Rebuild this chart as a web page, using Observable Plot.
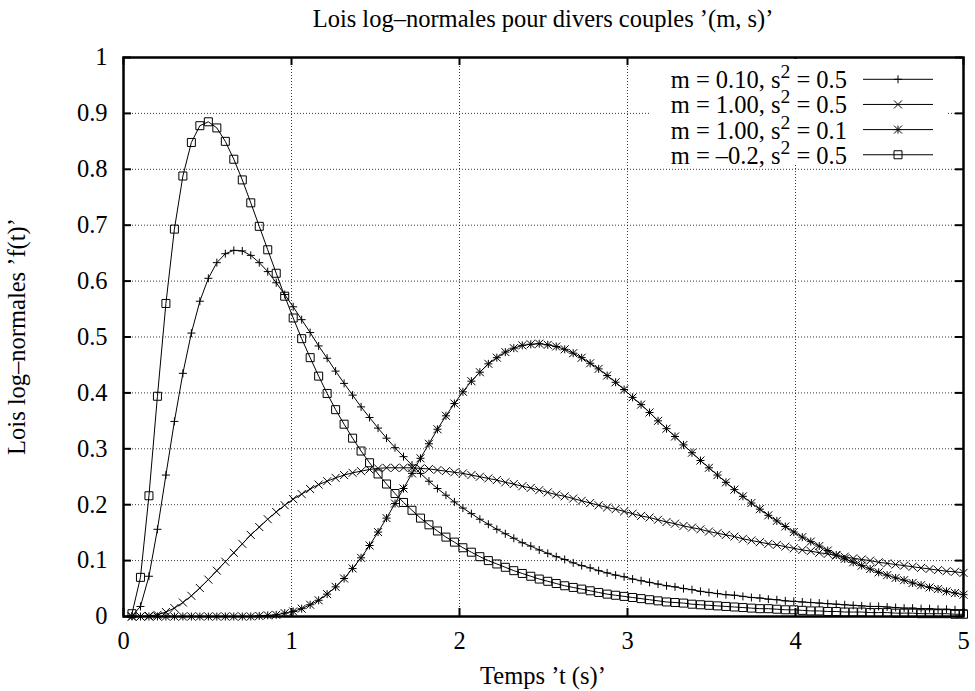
<!DOCTYPE html>
<html>
<head>
<meta charset="utf-8">
<script src="https://cdn.jsdelivr.net/npm/d3@7"></script>
<script src="https://cdn.jsdelivr.net/npm/@observablehq/plot@0.6"></script>
<style>
  html, body { margin: 0; padding: 0; background: #fff; }
  #chart { width: 975px; height: 691px; }
</style>
</head>
<body>
<div id="chart"></div>
<script>
// ---------------- data ----------------
const titleText = "Lois log–normales pour divers couples ’(m, s)’";
const xLabelText = "Temps ’t (s)’";
const yLabelText = "Lois log–normales ’f(t)’";

const t = [
  0.0505,0.1010,0.1515,0.2020,0.2525,0.3030,0.3535,0.4040,0.4545,0.5051,
  0.5556,0.6061,0.6566,0.7071,0.7576,0.8081,0.8586,0.9091,0.9596,1.0101,
  1.0606,1.1111,1.1616,1.2121,1.2626,1.3131,1.3636,1.4141,1.4646,1.5152,
  1.5657,1.6162,1.6667,1.7172,1.7677,1.8182,1.8687,1.9192,1.9697,2.0202,
  2.0707,2.1212,2.1717,2.2222,2.2727,2.3232,2.3737,2.4242,2.4747,2.5253,
  2.5758,2.6263,2.6768,2.7273,2.7778,2.8283,2.8788,2.9293,2.9798,3.0303,
  3.0808,3.1313,3.1818,3.2323,3.2828,3.3333,3.3838,3.4343,3.4848,3.5354,
  3.5859,3.6364,3.6869,3.7374,3.7879,3.8384,3.8889,3.9394,3.9899,4.0404,
  4.0909,4.1414,4.1919,4.2424,4.2929,4.3434,4.3939,4.4444,4.4949,4.5455,
  4.5960,4.6465,4.6970,4.7475,4.7980,4.8485,4.8990,4.9495,5.0000
];

// m = 0.10, s^2 = 0.5
const fA = [
  0.001,0.018,0.072,0.156,0.253,0.349,0.435,0.507,0.564,0.605,
  0.633,0.649,0.655,0.654,0.646,0.633,0.617,0.597,0.576,0.554,
  0.531,0.508,0.484,0.462,0.439,0.417,0.396,0.375,0.356,0.337,
  0.319,0.302,0.286,0.271,0.256,0.242,0.229,0.217,0.205,0.194,
  0.184,0.174,0.165,0.156,0.148,0.140,0.132,0.126,0.119,0.113,
  0.107,0.102,0.096,0.091,0.087,0.082,0.078,0.074,0.071,0.067,
  0.064,0.061,0.058,0.055,0.053,0.050,0.048,0.045,0.043,0.041,
  0.039,0.038,0.036,0.034,0.033,0.031,0.030,0.028,0.027,0.026,
  0.025,0.024,0.023,0.022,0.021,0.020,0.019,0.018,0.018,0.017,
  0.016,0.015,0.015,0.014,0.014,0.013,0.013,0.012,0.012
];

// m = 1.00, s^2 = 0.5
const fB = [
  0.000,0.000,0.001,0.003,0.008,0.015,0.025,0.037,0.051,0.066,
  0.082,0.098,0.114,0.130,0.146,0.160,0.174,0.187,0.199,0.210,
  0.219,0.228,0.236,0.242,0.248,0.253,0.257,0.260,0.263,0.265,
  0.266,0.266,0.266,0.266,0.265,0.264,0.262,0.260,0.258,0.256,
  0.253,0.250,0.247,0.244,0.240,0.237,0.233,0.230,0.226,0.222,
  0.218,0.215,0.211,0.207,0.203,0.199,0.195,0.192,0.188,0.184,
  0.180,0.177,0.173,0.169,0.166,0.162,0.159,0.156,0.152,0.149,
  0.146,0.143,0.139,0.136,0.133,0.130,0.128,0.125,0.122,0.119,
  0.117,0.114,0.112,0.109,0.107,0.104,0.102,0.100,0.097,0.095,
  0.093,0.091,0.089,0.087,0.085,0.083,0.081,0.080,0.078
];

// m = 1.00, s^2 = 0.1
const fC = [
  0.000,0.000,0.000,0.000,0.000,0.000,0.000,0.000,0.000,0.000,
  0.000,0.000,0.000,0.000,0.000,0.001,0.002,0.003,0.006,0.009,
  0.014,0.021,0.029,0.040,0.053,0.068,0.086,0.105,0.127,0.151,
  0.176,0.202,0.229,0.256,0.283,0.309,0.335,0.359,0.381,0.402,
  0.421,0.437,0.452,0.463,0.473,0.480,0.485,0.487,0.488,0.486,
  0.483,0.478,0.471,0.463,0.453,0.443,0.431,0.419,0.406,0.392,
  0.379,0.365,0.350,0.336,0.322,0.307,0.293,0.279,0.266,0.253,
  0.240,0.227,0.215,0.203,0.192,0.181,0.171,0.161,0.151,0.142,
  0.134,0.126,0.118,0.110,0.103,0.097,0.091,0.085,0.079,0.074,
  0.069,0.065,0.060,0.056,0.052,0.049,0.045,0.042,0.039
];

// m = -0.2, s^2 = 0.5
const fD = [
  0.005,0.070,0.216,0.394,0.560,0.693,0.788,0.848,0.878,0.885,
  0.874,0.850,0.818,0.781,0.740,0.698,0.656,0.614,0.573,0.534,
  0.497,0.463,0.430,0.399,0.370,0.344,0.319,0.296,0.275,0.255,
  0.237,0.220,0.204,0.190,0.176,0.164,0.153,0.142,0.133,0.123,
  0.115,0.107,0.100,0.094,0.088,0.082,0.077,0.072,0.067,0.063,
  0.059,0.055,0.052,0.049,0.046,0.043,0.040,0.038,0.036,0.034,
  0.032,0.030,0.028,0.026,0.025,0.024,0.022,0.021,0.020,0.019,
  0.018,0.017,0.016,0.015,0.014,0.014,0.013,0.012,0.012,0.011,
  0.010,0.010,0.009,0.009,0.008,0.008,0.008,0.007,0.007,0.007,
  0.006,0.006,0.006,0.005,0.005,0.005,0.005,0.004,0.004
];

const legendM  = ["0.10", "1.00", "1.00", "–0.2"];
const legendS2 = ["0.5", "0.5", "0.1", "0.5"];

const xTicks = [0, 1, 2, 3, 4, 5];
const xTickLabels = ["0", "1", "2", "3", "4", "5"];
const yTicks = [0, 0.1, 0.2, 0.3, 0.4, 0.5, 0.6, 0.7, 0.8, 0.9, 1];
const yTickLabels = ["0", "0.1", "0.2", "0.3", "0.4", "0.5", "0.6", "0.7", "0.8", "0.9", "1"];

// ---------------- gnuplot-like point symbols ----------------
const rad = size => Math.sqrt(size / Math.PI);
const gpPlus = { draw(c, s) { const r = rad(s); c.moveTo(-r, 0); c.lineTo(r, 0); c.moveTo(0, -r); c.lineTo(0, r); } };
const gpTimes = { draw(c, s) { const r = rad(s); c.moveTo(-r, -r); c.lineTo(r, r); c.moveTo(-r, r); c.lineTo(r, -r); } };
const gpStar = { draw(c, s) { const r = rad(s); c.moveTo(-r, 0); c.lineTo(r, 0); c.moveTo(0, -r); c.lineTo(0, r);
                                c.moveTo(-r, -r); c.lineTo(r, r); c.moveTo(-r, r); c.lineTo(r, -r); } };
const gpBox = { draw(c, s) { const r = rad(s); c.rect(-r, -r, 2 * r, 2 * r); } };

const seriesValues = [fA, fB, fC, fD];
const seriesSymbols = [gpPlus, gpTimes, gpStar, gpBox];

const series = seriesValues.map((vals, k) => t.map((x, i) => ({ x, y: vals[i], k })));
const allRows = series.flat();

// ---------------- layout ----------------
const W = 975, H = 691;
const mL = 123, mR = 12, mT = 57, mB = 75;
const frameW = W - mL - mR, frameH = H - mT - mB;
const tickLen = 8;
const R = 4;
const FONT = "'Liberation Serif', 'Times New Roman', Times, serif";
const FS = 24.5;

const gridStyle = { stroke: "#222", strokeOpacity: 0.9, strokeWidth: 1, strokeDasharray: "1,2" };

const svg = Plot.plot({
  width: W,
  height: H,
  marginLeft: mL, marginRight: mR, marginTop: mT, marginBottom: mB,
  x: { domain: [0, 5], label: null },
  y: { domain: [0, 1], label: null },
  style: { fontFamily: FONT, fontSize: FS + "px", background: "white", color: "black", overflow: "visible" },
  marks: [
    Plot.gridX(xTicks.slice(1, -1), gridStyle),
    Plot.gridY(yTicks.slice(1, -1), gridStyle),
    Plot.line(allRows, { x: "x", y: "y", z: "k", stroke: "black", strokeWidth: 1 }),
    ...series.map((rows, k) => Plot.dot(rows, { x: "x", y: "y", r: R, symbol: seriesSymbols[k], stroke: "black", fill: "none", strokeWidth: 1 })),
    // inward ticks, mirrored on all four sides
    Plot.tickX(xTicks, { x: d => d, insetTop: frameH - tickLen, stroke: "black", strokeWidth: 2 }),
    Plot.tickX(xTicks, { x: d => d, insetBottom: frameH - tickLen, stroke: "black", strokeWidth: 2 }),
    Plot.tickY(yTicks, { y: d => d, insetRight: frameW - tickLen, stroke: "black", strokeWidth: 2 }),
    Plot.tickY(yTicks, { y: d => d, insetLeft: frameW - tickLen, stroke: "black", strokeWidth: 2 }),
    Plot.frame({ stroke: "black", strokeWidth: 2.5 }),
    Plot.axisX(xTicks, { anchor: "bottom", tickSize: 0, tickPadding: 15, label: null,
                         tickFormat: d => xTickLabels[xTicks.indexOf(d)] }),
    Plot.axisY(yTicks, { anchor: "left", tickSize: 0, tickPadding: 16, label: null,
                         tickFormat: d => yTickLabels[yTicks.indexOf(d)] })
  ]
});

document.getElementById("chart").appendChild(svg);

// ---------------- titles, legend ----------------
const s = d3.select(svg);
const cx = mL + frameW / 2;
const txt = (sel) => sel.attr("font-family", FONT).attr("font-size", FS).attr("fill", "black");

s.append("text").call(txt).attr("x", cx).attr("y", 27).attr("text-anchor", "middle").text(titleText);
s.append("text").call(txt).attr("x", cx).attr("y", 684).attr("text-anchor", "middle").text(xLabelText);
s.append("text").call(txt).attr("text-anchor", "middle")
  .attr("transform", `translate(25,${mT + frameH / 2}) rotate(-90)`).text(yLabelText);

// legend (opaque key box, top right)
const key = s.append("g");
key.append("rect").attr("x", 651).attr("y", mT + 2).attr("width", 297).attr("height", 106).attr("fill", "white");
const row0 = 79.3, rowStep = 25.15;
legendM.forEach((m, k) => {
  const y = row0 + k * rowStep;
  const tx = key.append("text").call(txt).attr("x", 847).attr("y", y + 9).attr("text-anchor", "end");
  tx.append("tspan").text(`m = ${m}, s`);
  tx.append("tspan").attr("font-size", FS * 0.8).attr("dy", -10).text("2");
  tx.append("tspan").attr("dy", 10).text(` = ${legendS2[k]}`);
  key.append("line").attr("x1", 863).attr("x2", 933).attr("y1", y).attr("y2", y)
    .attr("stroke", "black").attr("stroke-width", 1);
  key.append("path").attr("transform", `translate(898,${y})`)
    .attr("d", d3.symbol(seriesSymbols[k], Math.PI * R * R)())
    .attr("fill", "none").attr("stroke", "black").attr("stroke-width", 1);
});
</script>
</body>
</html>
